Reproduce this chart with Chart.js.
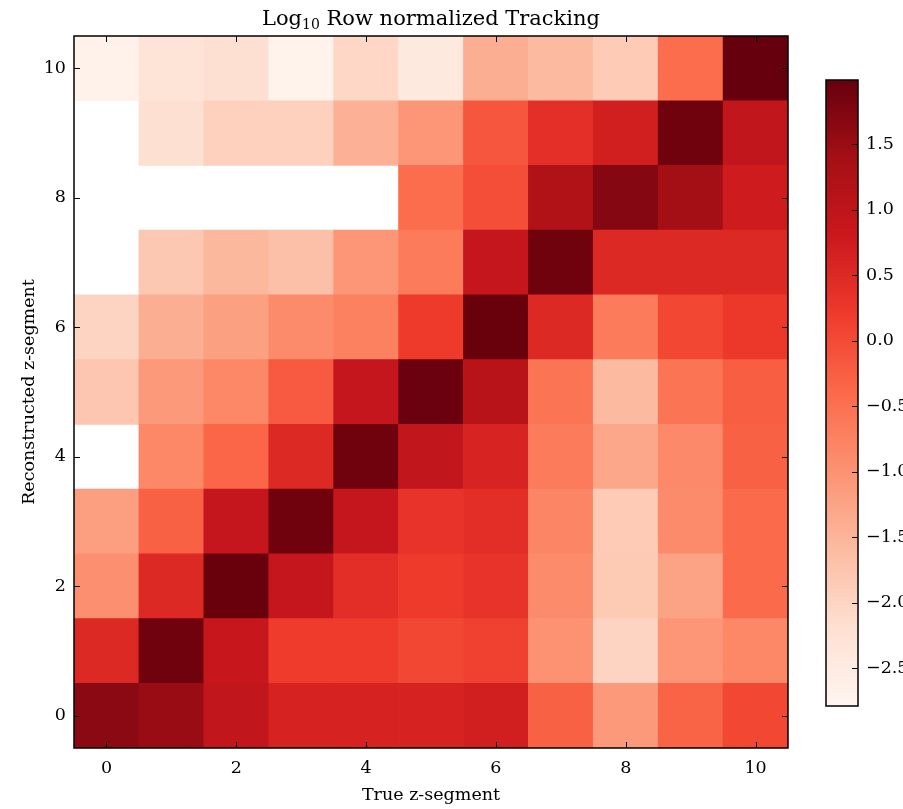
<!DOCTYPE html>
<html>
<head>
<meta charset="utf-8">
<script src="https://cdn.jsdelivr.net/npm/chart.js@4.4.1/dist/chart.umd.min.js"></script>
<style>
  html, body { margin: 0; padding: 0; background: #fff; }
  #wrap { position: relative; width: 903px; height: 809px; overflow: hidden; }
  #main { position: absolute; left: 0; top: 0; }
  #cbar { position: absolute; left: 800px; top: 0; }
</style>
</head>
<body>
<div id="wrap">
  <canvas id="main" width="903" height="809"></canvas>
  <canvas id="cbar" width="103" height="809"></canvas>
</div>
<script>
// True segment (columns) and reconstructed segment (rows)
const trueSegments = [0, 1, 2, 3, 4, 5, 6, 7, 8, 9, 10];
const recoSegments = [0, 1, 2, 3, 4, 5, 6, 7, 8, 9, 10];
const axisTicks = [0, 2, 4, 6, 8, 10];
const colorbarTicks = [-2.5, -2.0, -1.5, -1.0, -0.5, 0.0, 0.5, 1.0, 1.5];
const colorMin = -2.79;
const colorMax = 1.99;

// log10 of row-normalized counts, one array per reconstructed segment (null = empty cell)
const reco0  = [1.65, 1.50, 0.95, 0.62, 0.62, 0.62, 0.70, -0.28, -1.10, -0.32, 0.05];
const reco1  = [0.50, 1.90, 0.85, 0.20, 0.20, 0.05, 0.13, -1.00, -2.00, -1.05, -0.85];
const reco2  = [-0.95, 0.50, 1.97, 0.90, 0.42, 0.22, 0.33, -0.90, -1.83, -1.25, -0.42];
const reco3  = [-1.18, -0.28, 0.90, 1.90, 0.90, 0.33, 0.42, -0.80, -1.85, -0.90, -0.40];
const reco4  = [null, -0.85, -0.35, 0.50, 1.90, 0.95, 0.60, -0.65, -1.30, -0.88, -0.28];
const reco5  = [-1.78, -1.10, -0.85, -0.20, 0.90, 1.95, 1.10, -0.55, -1.60, -0.55, -0.25];
const reco6  = [-2.00, -1.40, -1.20, -0.90, -0.75, 0.22, 1.97, 0.50, -0.65, 0.05, 0.25];
const reco7  = [null, -1.80, -1.55, -1.68, -1.05, -0.65, 0.90, 1.90, 0.50, 0.50, 0.50];
const reco8  = [null, null, null, null, null, -0.45, -0.05, 1.20, 1.70, 1.40, 0.75];
const reco9  = [null, -2.20, -1.95, -1.95, -1.45, -1.05, -0.15, 0.40, 0.70, 1.90, 0.95];
const reco10 = [-2.70, -2.30, -2.20, -2.72, -2.05, -2.45, -1.40, -1.60, -1.85, -0.45, 1.99];

const rowValues = [reco0, reco1, reco2, reco3, reco4, reco5, reco6, reco7, reco8, reco9, reco10];

// Sequential "Reds" colour ramp
const redsStops = ['#fff5f0', '#fee0d2', '#fcbba1', '#fc9272', '#fb6a4a', '#ef3b2c', '#cb181d', '#a50f15', '#67000d'];
function hexToRgb(h) {
  return [parseInt(h.slice(1, 3), 16), parseInt(h.slice(3, 5), 16), parseInt(h.slice(5, 7), 16)];
}
const redsRgb = redsStops.map(hexToRgb);
function redsColor(v) {
  let t = (v - colorMin) / (colorMax - colorMin);
  t = Math.max(0, Math.min(1, t));
  const pos = t * (redsRgb.length - 1);
  const i = Math.min(Math.floor(pos), redsRgb.length - 2);
  const f = pos - i;
  const a = redsRgb[i], b = redsRgb[i + 1];
  const c = a.map((av, k) => Math.round(av + (b[k] - av) * f));
  return `rgb(${c[0]},${c[1]},${c[2]})`;
}

const FONT = '"DejaVu Serif", "Liberation Serif", serif';
const LABEL_SIZE = 17.5;

// One floating-bar dataset per reconstructed segment; each bar spans [row-0.5, row+0.5]
const datasets = recoSegments.map((r, ri) => {
  const cells = [];
  const colors = [];
  trueSegments.forEach((c, ci) => {
    const v = rowValues[ri][ci];
    if (v === null) return;
    cells.push({ x: c, y: [r - 0.5, r + 0.5] });
    colors.push(redsColor(v));
  });
  return {
    label: 'reco ' + r,
    data: cells,
    backgroundColor: colors,
    borderWidth: 0,
    grouped: false,
    barPercentage: 1.0,
    categoryPercentage: 1.0
  };
});

function fixedTicks(vals) {
  return axis => { axis.ticks = vals.map(v => ({ value: v })); };
}

// Frame, inward tick marks on all four sides, and the title with subscript
const framePlugin = {
  id: 'frame',
  afterDraw(chart) {
    const { ctx, chartArea: a, scales } = chart;
    ctx.save();
    ctx.strokeStyle = '#000';
    ctx.lineWidth = 1;
    const len = 6;
    axisTicks.forEach(v => {
      const px = Math.round(scales.x.getPixelForValue(v)) + 0.5;
      ctx.beginPath();
      ctx.moveTo(px, a.bottom); ctx.lineTo(px, a.bottom - len);
      ctx.moveTo(px, a.top); ctx.lineTo(px, a.top + len);
      ctx.stroke();
      const py = Math.round(scales.y.getPixelForValue(v)) + 0.5;
      ctx.beginPath();
      ctx.moveTo(a.left, py); ctx.lineTo(a.left + len, py);
      ctx.moveTo(a.right, py); ctx.lineTo(a.right - len, py);
      ctx.stroke();
    });
    ctx.lineWidth = 1.5;
    ctx.strokeRect(a.left, a.top, a.right - a.left, a.bottom - a.top);

    // Title: Log_10 Row normalized Tracking
    const big = '21px ' + FONT, small = '14px ' + FONT;
    const p1 = 'Log', p2 = '10', p3 = ' Row normalized Tracking';
    ctx.font = big; const w1 = ctx.measureText(p1).width; const w3 = ctx.measureText(p3).width;
    ctx.font = small; const w2 = ctx.measureText(p2).width;
    const total = w1 + w2 + w3;
    let x = (a.left + a.right) / 2 - total / 2;
    const base = 25;
    ctx.fillStyle = '#000';
    ctx.textBaseline = 'alphabetic';
    ctx.textAlign = 'left';
    ctx.font = big; ctx.fillText(p1, x, base); x += w1;
    ctx.font = small; ctx.fillText(p2, x, base + 4); x += w2;
    ctx.font = big; ctx.fillText(p3, x, base);
    ctx.restore();
  }
};

new Chart(document.getElementById('main'), {
  type: 'bar',
  data: { datasets },
  options: {
    responsive: false,
    animation: false,
    layout: { padding: { left: 0, right: 115, top: 36, bottom: 0 } },
    plugins: { legend: { display: false }, tooltip: { enabled: false } },
    scales: {
      x: {
        type: 'linear', min: -0.5, max: 10.5, offset: false,
        afterBuildTicks: fixedTicks(axisTicks),
        afterFit: a => { a.height = 61; },
        grid: { display: false }, border: { display: false },
        ticks: { color: '#000', font: { family: FONT, size: LABEL_SIZE }, padding: 2, maxRotation: 0 },
        title: { display: true, text: 'True z-segment', color: '#000', font: { family: FONT, size: LABEL_SIZE }, padding: { top: 0, bottom: 3 } }
      },
      y: {
        type: 'linear', min: -0.5, max: 10.5,
        afterBuildTicks: fixedTicks(axisTicks),
        afterFit: a => { a.width = 74; },
        grid: { display: false }, border: { display: false },
        ticks: { color: '#000', font: { family: FONT, size: LABEL_SIZE }, padding: 0 },
        title: { display: true, text: 'Reconstructed z-segment', color: '#000', font: { family: FONT, size: LABEL_SIZE }, padding: { top: 19, bottom: 0 } }
      }
    }
  },
  plugins: [framePlugin]
});

// Colour bar: gradient over the value range with a labelled right-hand axis
const colorbarPlugin = {
  id: 'colorbarFill',
  beforeDraw(chart) {
    const { ctx, chartArea: a } = chart;
    const g = ctx.createLinearGradient(0, a.bottom, 0, a.top);
    redsStops.forEach((c, i) => g.addColorStop(i / (redsStops.length - 1), c));
    ctx.save();
    ctx.fillStyle = g;
    ctx.fillRect(a.left, a.top, a.right - a.left, a.bottom - a.top);
    ctx.restore();
  },
  afterDraw(chart) {
    const { ctx, chartArea: a, scales } = chart;
    ctx.save();
    ctx.strokeStyle = '#000';
    ctx.lineWidth = 1;
    colorbarTicks.forEach(v => {
      const py = Math.round(scales.y.getPixelForValue(v)) + 0.5;
      ctx.beginPath();
      ctx.moveTo(a.right, py); ctx.lineTo(a.right - 6, py);
      ctx.stroke();
    });
    ctx.lineWidth = 1.5;
    ctx.strokeRect(a.left, a.top, a.right - a.left, a.bottom - a.top);
    ctx.restore();
  }
};

new Chart(document.getElementById('cbar'), {
  type: 'bar',
  data: { labels: [''], datasets: [] },
  options: {
    responsive: false,
    animation: false,
    layout: { padding: { left: 26, right: 0, top: 80, bottom: 103 } },
    plugins: { legend: { display: false }, tooltip: { enabled: false } },
    scales: {
      x: { display: false },
      y: {
        position: 'right', type: 'linear', min: colorMin, max: colorMax,
        afterBuildTicks: fixedTicks(colorbarTicks),
        afterFit: a => { a.width = 45; },
        grid: { display: false }, border: { display: false },
        ticks: {
          color: '#000', font: { family: FONT, size: LABEL_SIZE }, padding: 0,
          callback: v => (v < 0 ? '\u2212' : '') + Math.abs(v).toFixed(1)
        }
      }
    }
  },
  plugins: [colorbarPlugin]
});
</script>
</body>
</html>
